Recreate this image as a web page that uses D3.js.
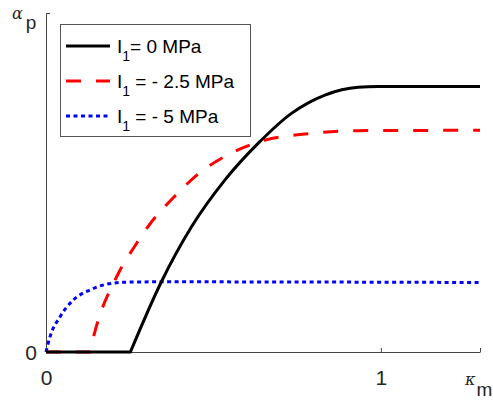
<!DOCTYPE html>
<html>
<head>
<meta charset="utf-8">
<script src="https://cdn.jsdelivr.net/npm/d3@7"></script>
<style>
  body { margin: 0; background: #fff; }
  svg { display: block; font-family: "Liberation Sans", Arial, sans-serif; }
</style>
</head>
<body>
<div id="chart"></div>
<script>
// values (kappa_m, alpha_p)
const kappaBlack = [0, 0.252, 0.345, 0.435, 0.534, 0.634, 0.733, 0.833, 0.932, 0.991, 1.296];
const alphaBlack = [0, 0, 0.208, 0.37, 0.507, 0.616, 0.704, 0.758, 0.781, 0.783, 0.783];

const kappaRed = [0, 0.13, 0.156, 0.211, 0.271, 0.32, 0.38, 0.463, 0.55, 0.654, 0.773, 0.932, 1.296];
const alphaRed = [0, 0, 0.094, 0.222, 0.321, 0.39, 0.455, 0.532, 0.585, 0.625, 0.643, 0.653, 0.654];

const kappaBlue = [0, 0.012, 0.042, 0.081, 0.131, 0.181, 0.241, 0.33, 1.296];
const alphaBlue = [0, 0.045, 0.104, 0.153, 0.183, 0.2, 0.206, 0.207, 0.205];

const seriesNames = ['= 0 MPa', ' = - 2.5 MPa', ' = - 5 MPa'];
const xTicks = [0, 1, 1.296];
const yTicks = [0, 1];

const width = 493, height = 401;
const x0 = 46, x1 = 480, y0 = 352, y1 = 13;

const svg = d3.select('#chart').append('svg')
  .attr('width', width)
  .attr('height', height);

const x = d3.scaleLinear().domain([0, 1.296]).range([x0, x1]);
const y = d3.scaleLinear().domain([0, 1]).range([y0, y1]);

const axisColor = '#444';

// x axis (ticks pointing inward)
const gx = svg.append('g')
  .attr('transform', `translate(0,${y0})`)
  .call(d3.axisBottom(x).tickValues(xTicks).tickSizeInner(-4).tickSizeOuter(0)
    .tickFormat(d => (d === 0 || d === 1) ? d3.format('d')(d) : ''));
gx.select('.domain').attr('stroke', axisColor);
gx.selectAll('.tick line').attr('stroke', axisColor);
gx.selectAll('.tick text')
  .attr('y', 33).attr('dy', 0)
  .attr('font-size', 21)
  .attr('fill', '#262626')
  .attr('font-family', '"Liberation Sans", Arial, sans-serif');

// y axis
const gy = svg.append('g')
  .attr('transform', `translate(${x0},0)`)
  .call(d3.axisLeft(y).tickValues(yTicks).tickSizeInner(-4).tickSizeOuter(0)
    .tickFormat(d => d === 0 ? '0' : ''));
gy.select('.domain').attr('stroke', axisColor);
gy.selectAll('.tick line').attr('stroke', axisColor);
gy.selectAll('.tick text')
  .attr('x', -9).attr('dy', '0.36em')
  .attr('font-size', 21)
  .attr('fill', '#262626')
  .attr('font-family', '"Liberation Sans", Arial, sans-serif');

// curves: straight flat part at zero, smooth part after the corner
const straight = d3.line().x(d => x(d[0])).y(d => y(d[1]));
const smooth = d3.line().x(d => x(d[0])).y(d => y(d[1])).curve(d3.curveMonotoneX);

function curvePath(k, a) {
  const pts = d3.zip(k, a);
  let last = 0;
  while (last + 1 < pts.length && pts[last + 1][1] === 0) last++;
  if (last === 0) return smooth(pts);
  const flat = straight(pts.slice(0, last + 1));
  const rest = smooth(pts.slice(last)).replace(/^M[^A-Za-z]*/, '');
  return flat + rest;
}

const series = [
  { k: kappaBlack, a: alphaBlack, color: '#000000', dash: null },
  { k: kappaRed, a: alphaRed, color: '#ff0000', dash: '15,15' },
  { k: kappaBlue, a: alphaBlue, color: '#0000ff', dash: '4,3.5' }
];

[2, 1, 0].forEach(i => {
  const s = series[i];
  svg.append('path')
    .attr('d', curvePath(s.k, s.a))
    .attr('fill', 'none')
    .attr('stroke', s.color)
    .attr('stroke-width', 3)
    .attr('stroke-dasharray', s.dash);
});

// legend
const leg = svg.append('g');
leg.append('rect')
  .attr('x', 60.5).attr('y', 24.5)
  .attr('width', 190).attr('height', 112)
  .attr('fill', '#fff')
  .attr('stroke', '#555')
  .attr('stroke-width', 1);

const rowY = [46, 81, 116];
series.forEach((s, i) => {
  leg.append('line')
    .attr('x1', 66).attr('x2', 110)
    .attr('y1', rowY[i]).attr('y2', rowY[i])
    .attr('stroke', s.color)
    .attr('stroke-width', 3)
    .attr('stroke-dasharray', s.dash);
  const t = leg.append('text')
    .attr('x', 117).attr('y', rowY[i] + 7)
    .attr('font-size', 19)
    .attr('fill', '#000');
  t.append('tspan').text('I');
  t.append('tspan').attr('dy', 8).attr('font-size', 14).text('1');
  t.append('tspan').attr('dy', -8).text(seriesNames[i]);
});

// axis labels
const yl = svg.append('text').attr('x', 12).attr('y', 19).attr('fill', '#262626');
yl.append('tspan').attr('font-family', '"DejaVu Serif", serif').attr('font-style', 'italic').attr('font-size', 16).text('α');
yl.append('tspan').attr('dx', 3).attr('dy', 10).attr('font-size', 19).text('p');

const xl = svg.append('text').attr('x', 465).attr('y', 385).attr('fill', '#262626');
xl.append('tspan').attr('font-family', '"DejaVu Serif", serif').attr('font-style', 'italic').attr('font-size', 16).text('κ');
xl.append('tspan').attr('dx', 1).attr('dy', 11).attr('font-size', 19).text('m');
</script>
</body>
</html>
